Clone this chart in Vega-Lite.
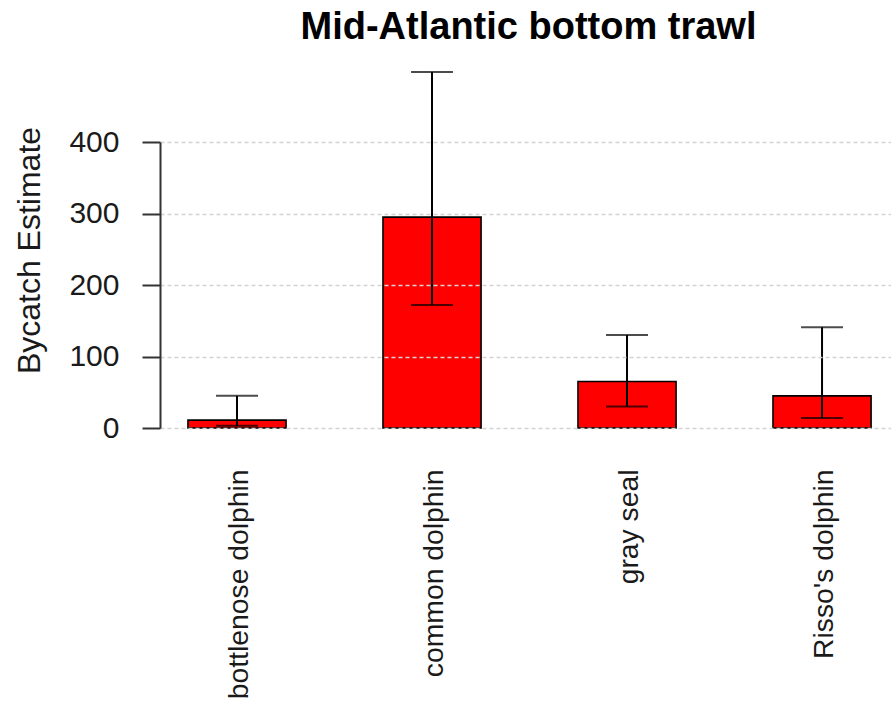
{
  "$schema": "https://vega.github.io/schema/vega-lite/v6.json",
  "width": 731,
  "height": 286,
  "autosize": {"type": "none"},
  "padding": {"left": 160, "top": 142, "right": 0, "bottom": 274},
  "background": "white",
  "title": {
    "text": "Mid-Atlantic bottom trawl",
    "fontSize": 38,
    "font": "Liberation Sans",
    "fontWeight": "bold",
    "color": "black",
    "anchor": "middle",
    "baseline": "alphabetic",
    "offset": -6,
    "dx": 3
  },
  "config": {"view": {"stroke": null}, "font": "Liberation Sans"},
  "data": {
    "values": [
      {"species": "bottlenose dolphin", "estimate": 11, "lower": 3, "upper": 45},
      {"species": "common dolphin", "estimate": 295, "lower": 172, "upper": 498},
      {"species": "gray seal", "estimate": 65, "lower": 30, "upper": 130},
      {"species": "Risso's dolphin", "estimate": 45, "lower": 14, "upper": 141}
    ]
  },
  "encoding": {
    "x": {
      "field": "species",
      "type": "nominal",
      "sort": null,
      "scale": {"paddingInner": 0.497, "paddingOuter": 0.1228, "align": 0.584, "round": false},
      "axis": {
        "title": null,
        "labelAngle": 270,
        "labelAlign": "right",
        "labelBaseline": "middle",
        "labelFontSize": 28.3,
        "labelFont": "Liberation Sans",
        "labelColor": "#1a1a1a",
        "labelPadding": 41,
        "labelOffset": 3,
        "labelLimit": 0,
        "ticks": false,
        "domain": false
      }
    }
  },
  "layer": [
    {
      "mark": {"type": "bar", "fill": "#FF0000", "stroke": "black", "strokeWidth": 1.6},
      "encoding": {
        "y": {
          "field": "estimate",
          "type": "quantitative",
          "title": "Bycatch Estimate",
          "scale": {"domain": [0, 400], "nice": false, "zero": true},
          "axis": {
            "values": [0, 100, 200, 300, 400],
            "grid": true,
            "gridColor": "#d3d3d3",
            "gridDash": [4, 3],
            "gridWidth": 1.5,
            "zindex": 1,
            "domainColor": "#333333",
            "domainWidth": 2,
            "tickColor": "#333333",
            "tickSize": 18,
            "tickWidth": 2,
            "labelFontSize": 30,
            "labelFont": "Liberation Sans",
            "labelColor": "#1a1a1a",
            "labelPadding": 23,
            "labelFlush": false,
            "labelOverlap": false,
            "titleFontSize": 32,
            "titleFont": "Liberation Sans",
            "titleFontWeight": "normal",
            "titleColor": "#1a1a1a",
            "titlePadding": 22,
            "titleY": 108
          }
        }
      }
    },
    {
      "mark": {"type": "rule", "color": "black", "strokeWidth": 2},
      "encoding": {
        "y": {"field": "lower", "type": "quantitative", "title": "Bycatch Estimate"},
        "y2": {"field": "upper"}
      }
    },
    {
      "mark": {"type": "tick", "color": "black", "size": 42, "thickness": 2, "orient": "horizontal"},
      "encoding": {
        "y": {"field": "upper", "type": "quantitative", "title": "Bycatch Estimate"}
      }
    },
    {
      "mark": {"type": "tick", "color": "black", "size": 42, "thickness": 2, "orient": "horizontal"},
      "encoding": {
        "y": {"field": "lower", "type": "quantitative", "title": "Bycatch Estimate"}
      }
    }
  ]
}
